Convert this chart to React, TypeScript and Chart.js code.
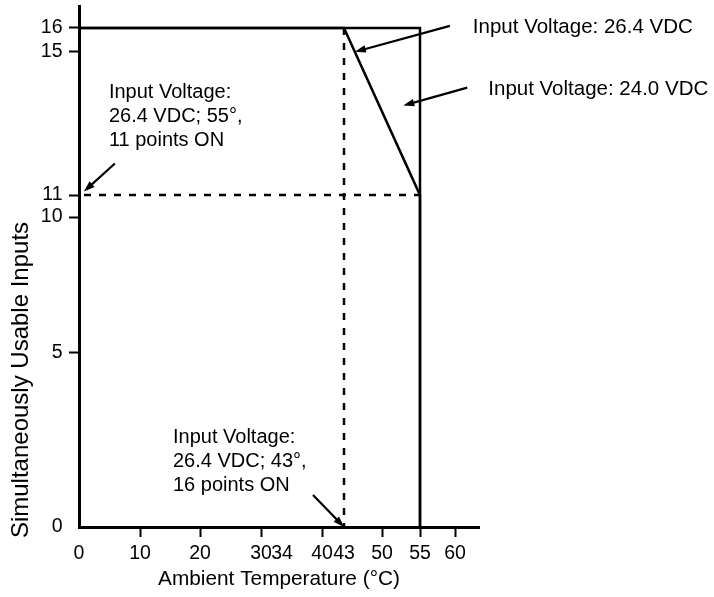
import React, { useEffect, useRef } from 'react';
import { Chart, LinearScale, registerables } from 'chart.js';

Chart.register(...registerables);

// ---------- data ----------
const xTickValues = [0, 10, 20, 30, 34, 40, 43, 50, 55, 60];
const yTickValues = [0, 5, 10, 11, 15, 16];
const xTicksWithoutMark = [0, 34, 43];
const yTicksWithoutMark = [0];

// Input Voltage 24.0 VDC curve
const temps24 = [0, 55, 55];
const inputs24 = [16, 16, 0];
// Input Voltage 26.4 VDC curve
const temps264 = [0, 43, 55, 55];
const inputs264 = [16, 16, 11, 0];
// dashed reference lines
const limitTemps = [0, 55];
const limitInputs = [11, 11];
const kneeTemps = [43, 43];
const kneeInputs = [16, 0];

// the original schematic uses non-linear axes: value -> fraction of axis length
const xKnots = [[0, 0], [10, 0.1525], [20, 0.3025], [30, 0.455], [34, 0.5075], [40, 0.6075], [43, 0.6625], [50, 0.7575], [55, 0.8525], [60, 0.94], [63.5, 1]];
const yKnots = [[0, 0], [5, 0.334], [10, 0.595], [11, 0.637], [15, 0.912], [16, 0.958], [17, 1]];

const calloutTexts = [
  ['Input Voltage: 26.4 VDC'],
  ['Input Voltage: 24.0 VDC'],
  ['Input Voltage:', '26.4 VDC; 55°,', '11 points ON'],
  ['Input Voltage:', '26.4 VDC; 43°,', '16 points ON'],
];
const calloutTargetTemps = [45, 52.8, 0.8, 43];
const calloutTargetInputs = [15, 13.5, 11.1, 0];

const FAMILY = "'Liberation Sans', Arial, Helvetica, sans-serif";

// callout styling (pixel offsets relative to the arrow tip)
const calloutStyle = [
  { tail: [95, -26], text: [118, -25], size: 20.5 },
  { tail: [64, -18], text: [85, -16.5], size: 20.5 },
  { tail: [31, -28], text: [25, -99], size: 20 },
  { tail: [-31, -32], text: [-171, -90], size: 20 },
];

const KNOTS: Record<string, number[][]> = { x: xKnots, y: yKnots };

function mapKnots(knots: number[][], v: number, a: number, b: number): number {
  let i = 0;
  while (i < knots.length - 2 && v > knots[i + 1][a]) i++;
  const k0 = knots[i];
  const k1 = knots[i + 1];
  const t = (v - k0[a]) / (k1[a] - k0[a]);
  return k0[b] + t * (k1[b] - k0[b]);
}

class PiecewiseScale extends LinearScale {
  getPixelForValue(value: any) {
    if (value === null || value === undefined || isNaN(value)) return NaN;
    const knots = KNOTS[(this as any).id];
    return this.getPixelForDecimal(mapKnots(knots, value, 0, 1));
  }
  getValueForPixel(pixel: number) {
    const knots = KNOTS[(this as any).id];
    return mapKnots(knots, this.getDecimalForPixel(pixel), 1, 0);
  }
}
(PiecewiseScale as any).id = 'piecewise';
(PiecewiseScale as any).defaults = {};
Chart.register(PiecewiseScale as any);

const pts = (xs: number[], ys: number[]) => xs.map((x, i) => ({ x, y: ys[i] }));

const calloutPlugin = {
  id: 'callouts',
  afterDraw(chart: any) {
    const ctx = chart.ctx as CanvasRenderingContext2D;
    const xs = chart.scales.x;
    const ys = chart.scales.y;
    ctx.save();
    ctx.fillStyle = '#000';
    ctx.strokeStyle = '#000';
    calloutTexts.forEach((lines, k) => {
      const st = calloutStyle[k];
      const hx = xs.getPixelForValue(calloutTargetTemps[k]);
      const hy = ys.getPixelForValue(calloutTargetInputs[k]);
      const tx = hx + st.tail[0];
      const ty = hy + st.tail[1];
      const ang = Math.atan2(hy - ty, hx - tx);
      const L = 11;
      const W = 3.8;
      const bx = hx - L * Math.cos(ang);
      const by = hy - L * Math.sin(ang);
      ctx.lineWidth = 2.2;
      ctx.beginPath();
      ctx.moveTo(tx, ty);
      ctx.lineTo(bx + Math.cos(ang), by + Math.sin(ang));
      ctx.stroke();
      ctx.beginPath();
      ctx.moveTo(hx, hy);
      ctx.lineTo(bx + W * Math.sin(ang), by - W * Math.cos(ang));
      ctx.lineTo(bx - W * Math.sin(ang), by + W * Math.cos(ang));
      ctx.closePath();
      ctx.fill();
      ctx.font = `${st.size}px ${FAMILY}`;
      ctx.textAlign = 'left';
      ctx.textBaseline = 'middle';
      lines.forEach((line, i) => ctx.fillText(line, hx + st.text[0], hy + st.text[1] + i * 24));
    });
    // vertical axis title
    const area = chart.chartArea;
    ctx.translate(area.left - 57.5, area.bottom - 147);
    ctx.rotate(-Math.PI / 2);
    ctx.font = `24px ${FAMILY}`;
    ctx.textAlign = 'center';
    ctx.textBaseline = 'middle';
    ctx.fillText('Simultaneously Usable Inputs', 0, 0);
    ctx.restore();
  },
};

export default function App() {
  const ref = useRef<HTMLCanvasElement | null>(null);
  useEffect(() => {
    if (!ref.current) return;
    const lineBase = {
      pointRadius: 0,
      pointHoverRadius: 0,
      borderColor: '#000',
      fill: false,
      tension: 0,
      clip: false as any,
      borderJoinStyle: 'miter' as const,
    };
    const chart = new Chart(ref.current, {
      type: 'line',
      data: {
        datasets: [
          { ...lineBase, label: 'Limit 11 points', data: pts(limitTemps, limitInputs), borderWidth: 2.5, borderDash: [7, 8], borderDashOffset: 10 },
          { ...lineBase, label: 'Knee 43°', data: pts(kneeTemps, kneeInputs), borderWidth: 2.5, borderDash: [7, 8] },
          { ...lineBase, label: 'Input Voltage: 24.0 VDC', data: pts(temps24, inputs24), borderWidth: 2.5 },
          { ...lineBase, label: 'Input Voltage: 26.4 VDC', data: pts(temps264, inputs264), borderWidth: 2.5 },
        ],
      },
      options: {
        responsive: false,
        animation: false,
        events: [],
        layout: { padding: { top: 6, right: 235, bottom: 0, left: 0 } },
        plugins: { legend: { display: false }, tooltip: { enabled: false } },
        scales: {
          x: {
            type: 'piecewise' as any,
            min: 0,
            max: 63.5,
            afterBuildTicks: (s: any) => { s.ticks = xTickValues.map((v) => ({ value: v })); },
            afterFit: (s: any) => { s.height = 70; s.paddingLeft = 0; s.paddingRight = 0; },
            ticks: {
              autoSkip: false, maxRotation: 0, minRotation: 0, padding: 5, color: '#000',
              font: { family: FAMILY, size: 19.5 },
              callback: (v: any) => String(v),
            },
            grid: {
              drawOnChartArea: false, drawTicks: true, tickLength: 10, tickWidth: 2,
              tickColor: (c: any) => (c.tick && xTicksWithoutMark.includes(c.tick.value) ? 'rgba(0,0,0,0)' : '#000'),
            },
            border: { display: true, width: 3, color: '#000' },
            title: { display: true, text: 'Ambient Temperature (°C)', color: '#000', font: { family: FAMILY, size: 20.8 }, padding: { top: 0, bottom: 5 } },
          } as any,
          y: {
            type: 'piecewise' as any,
            min: 0,
            max: 17,
            afterBuildTicks: (s: any) => { s.ticks = yTickValues.map((v) => ({ value: v })); },
            afterFit: (s: any) => { s.width = 79; s.paddingTop = 0; s.paddingBottom = 0; },
            ticks: {
              autoSkip: false, padding: 6.5, color: '#000',
              font: { family: FAMILY, size: 19.5 },
              callback: (v: any) => String(v),
            },
            grid: {
              drawOnChartArea: false, drawTicks: true, tickLength: 10, tickWidth: 2,
              tickColor: (c: any) => (c.tick && yTicksWithoutMark.includes(c.tick.value) ? 'rgba(0,0,0,0)' : '#000'),
            },
            border: { display: true, width: 3, color: '#000' },
            title: { display: false },
          } as any,
        },
      },
      plugins: [calloutPlugin],
    });
    return () => chart.destroy();
  }, []);
  return (
    <div style={{ position: 'absolute', left: 0, top: 0, width: 714, height: 597, background: '#fff' }}>
      <canvas ref={ref} width={714} height={597} style={{ display: 'block' }} />
    </div>
  );
}
